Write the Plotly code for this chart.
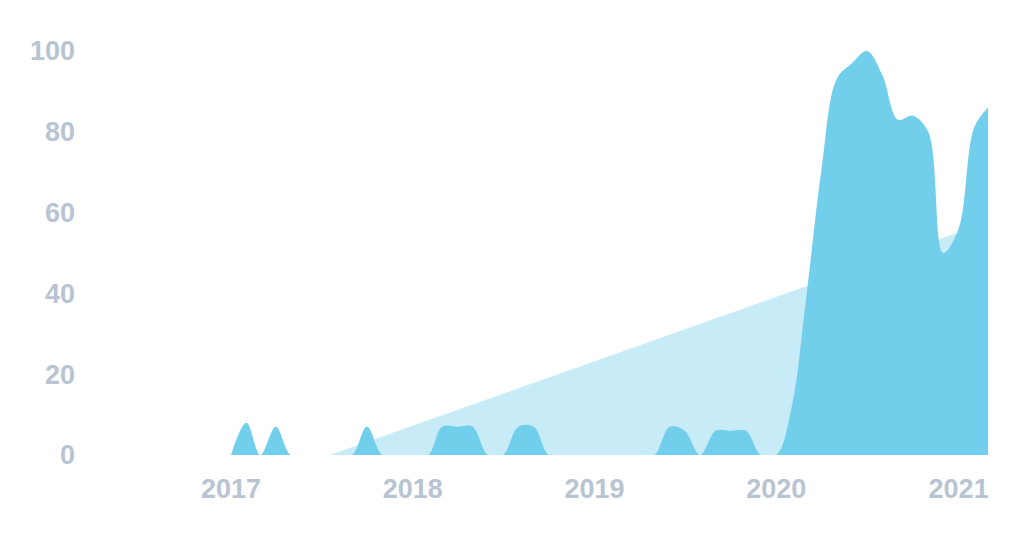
import pandas as pd
import plotly.graph_objects as go


# monthly interest values, Jan 2017 .. Mar 2021
months = pd.date_range("2017-01-01", "2021-03-01", freq="MS")
interest = [
    0, 8, 0, 7, 0, 0, 0, 0, 0, 7, 0, 0,        # 2017
    0, 0, 7, 7, 7, 0, 0, 7, 7, 0, 0, 0,        # 2018
    0, 0, 0, 0, 0, 7, 6, 0, 6, 6, 6, 0,        # 2019
    0, 12, 39, 71, 93, 97, 100, 94, 83, 84, 80, 50,  # 2020
    56, 81, 86,                                # 2021
]

# linear trend, value at first and last month
trend_dates = [months[0], months[-1]]
trend_vals = [-8.7, 57.7]

y_ticks = [0, 20, 40, 60, 80, 100]

label_color = "#b8c4d2"
tick_font = dict(family="Liberation Sans, Arial, sans-serif", size=27,
                 color=label_color, weight="bold")

fig = go.Figure()

fig.add_trace(go.Scatter(
    x=trend_dates, y=trend_vals,
    mode="lines", fill="tozeroy",
    line=dict(width=0, color="#c7ebf7"),
    fillcolor="#c7ebf7",
    hoverinfo="skip",
))

fig.add_trace(go.Scatter(
    x=months, y=interest,
    mode="lines", fill="tozeroy",
    line=dict(shape="spline", smoothing=1, width=0, color="#72cfeb"),
    fillcolor="#72cfeb",
))

# page body has an 8px margin, so the margins below are 8px smaller
fig.update_layout(
    showlegend=False,
    plot_bgcolor="white",
    paper_bgcolor="white",
    margin=dict(l=86, r=26, t=43, b=72),
    xaxis=dict(
        type="date",
        range=["2016-04-01", "2021-03-01"],
        dtick="M12",
        tick0="2017-01-01",
        tickformat="%Y",
        showgrid=False, zeroline=False, showline=False,
        ticklabelstandoff=15,
        tickfont=tick_font,
    ),
    yaxis=dict(
        range=[0, 100],
        tickvals=y_ticks,
        showgrid=False, zeroline=False, showline=False,
        ticklabelstandoff=18,
        tickfont=tick_font,
    ),
)

fig.write_html("out.html")
